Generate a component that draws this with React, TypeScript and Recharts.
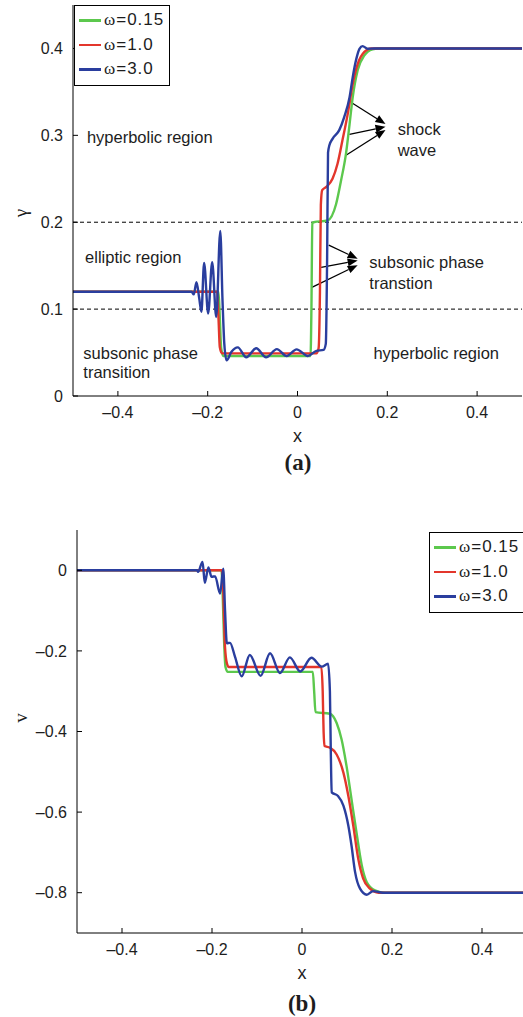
import React from 'react';
import { Label, Legend, Line, LineChart, ReferenceDot, ReferenceLine, XAxis, YAxis } from 'recharts';

type Pt = [number, number];
type Note = { x: number; y: number; text: string };
type Seg = [number, number, number, number];

const SANS = '"Liberation Sans", Arial, Helvetica, sans-serif';
const SERIF = '"Liberation Serif", "Times New Roman", serif';
const INK = '#1d1d1d';

const xTicks = [-0.4, -0.2, 0, 0.2, 0.4];
const gammaTicks = [0, 0.1, 0.2, 0.3, 0.4];
const vTicks = [-0.8, -0.6, -0.4, -0.2, 0];
const names = ['ω=0.15', 'ω=1.0', 'ω=3.0'];
const colors = ['#5cc84d', '#e3362c', '#2a3e9e'];

// (a) gamma
const gammaW015: Pt[] = [
  [-0.5, 0.12], [-0.176, 0.12], [-0.173, 0.09], [-0.17, 0.055], [-0.165, 0.046], [0.029, 0.046],
  [0.031, 0.1], [0.033, 0.199], [0.036, 0.2], [0.067, 0.202], [0.086, 0.221], [0.097, 0.248],
  [0.108, 0.279], [0.116, 0.313], [0.123, 0.344], [0.134, 0.375], [0.149, 0.392], [0.167, 0.399],
  [0.18, 0.4], [0.5, 0.4],
];
const gammaW1: Pt[] = [
  [-0.5, 0.12], [-0.179, 0.12], [-0.176, 0.09], [-0.173, 0.056], [-0.168, 0.049], [0.042, 0.049],
  [0.047, 0.055], [0.05, 0.12], [0.052, 0.22], [0.055, 0.2368], [0.064, 0.2406], [0.078, 0.25],
  [0.089, 0.267], [0.1, 0.294], [0.112, 0.325], [0.123, 0.359], [0.134, 0.382], [0.149, 0.396],
  [0.164, 0.4], [0.5, 0.4],
];
const gammaW3: Pt[] = [
  [-0.5, 0.12], [-0.236, 0.12], [-0.231, 0.117], [-0.225, 0.131], [-0.219, 0.113], [-0.214, 0.097],
  [-0.208, 0.153], [-0.199, 0.095], [-0.19, 0.154], [-0.181, 0.091], [-0.172, 0.19], [-0.167, 0.11],
  [-0.163, 0.06], [-0.158, 0.041], [-0.147, 0.051], [-0.133, 0.056], [-0.114, 0.0445], [-0.092, 0.055],
  [-0.07, 0.0445], [-0.046, 0.054], [-0.024, 0.046], [-0.002, 0.0537], [0.023, 0.046], [0.042, 0.052],
  [0.058, 0.053], [0.063, 0.06], [0.066, 0.16], [0.068, 0.28], [0.071, 0.2885], [0.078, 0.296],
  [0.093, 0.306], [0.104, 0.321], [0.116, 0.344], [0.123, 0.367], [0.131, 0.388], [0.138, 0.3996],
  [0.145, 0.4027], [0.156, 0.3996], [0.17, 0.4], [0.5, 0.4],
];

// (b) v
const vW015: Pt[] = [
  [-0.5, 0], [-0.179, 0], [-0.176, -0.07], [-0.173, -0.18], [-0.17, -0.24], [-0.165, -0.252],
  [0.024, -0.252], [0.027, -0.3], [0.03, -0.352], [0.062, -0.356], [0.077, -0.379], [0.088, -0.42],
  [0.099, -0.486], [0.11, -0.568], [0.121, -0.65], [0.133, -0.733], [0.144, -0.774], [0.162, -0.794],
  [0.185, -0.8], [0.5, -0.8],
];
const vW1: Pt[] = [
  [-0.5, 0], [-0.178, 0], [-0.175, -0.05], [-0.172, -0.17], [-0.168, -0.225], [-0.163, -0.24],
  [0.043, -0.24], [0.046, -0.3], [0.048, -0.4], [0.05, -0.436], [0.062, -0.44], [0.077, -0.457],
  [0.092, -0.502], [0.103, -0.56], [0.114, -0.634], [0.125, -0.716], [0.136, -0.765], [0.151, -0.79],
  [0.17, -0.8], [0.5, -0.8],
];
const vW3: Pt[] = [
  [-0.5, 0], [-0.233, 0], [-0.231, -0.004], [-0.221, 0.021], [-0.216, -0.031], [-0.208, 0.007],
  [-0.201, -0.016], [-0.193, -0.015], [-0.182, -0.058], [-0.175, 0.004], [-0.171, -0.1], [-0.167, -0.181],
  [-0.16, -0.18], [-0.149, -0.214], [-0.134, -0.263], [-0.116, -0.21], [-0.092, -0.262], [-0.071, -0.206],
  [-0.049, -0.255], [-0.027, -0.216], [-0.004, -0.251], [0.021, -0.217], [0.044, -0.239], [0.058, -0.232],
  [0.062, -0.3], [0.064, -0.45], [0.066, -0.551], [0.08, -0.56], [0.092, -0.584], [0.103, -0.634],
  [0.11, -0.683], [0.118, -0.749], [0.129, -0.79], [0.144, -0.805], [0.158, -0.796], [0.18, -0.8], [0.5, -0.8],
];

const phaseBounds = [0.1, 0.2];
const gammaNotes: Note[] = [
  { x: -0.469, y: 0.298, text: 'hyperbolic region' },
  { x: -0.473, y: 0.16, text: 'elliptic region' },
  { x: -0.477, y: 0.05, text: 'subsonic phase' },
  { x: -0.477, y: 0.028, text: 'transition' },
  { x: 0.223, y: 0.307, text: 'shock' },
  { x: 0.223, y: 0.283, text: 'wave' },
  { x: 0.16, y: 0.154, text: 'subsonic phase' },
  { x: 0.16, y: 0.13, text: 'transtion' },
  { x: 0.169, y: 0.05, text: 'hyperbolic region' },
];
const gammaArrows: Seg[] = [
  [0.119, 0.338, 0.196, 0.313],
  [0.1156, 0.301, 0.196, 0.31],
  [0.108, 0.277, 0.196, 0.306],
  [0.0696, 0.1736, 0.134, 0.158],
  [0.0526, 0.148, 0.134, 0.156],
  [0.032, 0.125, 0.134, 0.1506],
];

const fmt = (v: number) => (v < 0 ? `–${Math.abs(v)}` : `${v}`);
const rows = (pts: Pt[]) => pts.map(([x, y]) => ({ x, y }));
const tickStyle = { fill: INK, fontSize: 16, fontFamily: SANS };

function arrowShape(p: any) {
  const { x1, y1, x2, y2 } = p;
  const a = Math.atan2(y2 - y1, x2 - x1);
  const L = 10, W = 4;
  const bx = x2 - L * Math.cos(a), by = y2 - L * Math.sin(a);
  const pts = `${x2},${y2} ${bx + W * Math.sin(a)},${by - W * Math.cos(a)} ${bx - W * Math.sin(a)},${by + W * Math.cos(a)}`;
  return (
    <g>
      <line x1={x1} y1={y1} x2={bx} y2={by} stroke="#000" strokeWidth={1.3} />
      <polygon points={pts} fill="#000" />
    </g>
  );
}

const note = (n: Note, i: number) => (
  <ReferenceDot key={`n${i}`} x={n.x} y={n.y} r={0} ifOverflow="visible"
    shape={(p: any) => (
      <text x={p.cx} y={p.cy} dominantBaseline="central" fill={INK} fontSize={16.5} fontFamily={SANS}>{n.text}</text>
    )} />
);

const arrow = (s: Seg, i: number) => (
  <ReferenceLine key={`a${i}`} segment={[{ x: s[0], y: s[1] }, { x: s[2], y: s[3] }]} ifOverflow="visible" shape={arrowShape} />
);

function LegendBox({ width }: { width: number }) {
  return (
    <div style={{ width, boxSizing: 'border-box', border: '1.5px solid #000', background: '#fff', padding: '2px 0 3px 4px', fontFamily: SANS, fontSize: 17, color: INK }}>
      {names.map((n, i) => (
        <div key={n} style={{ display: 'flex', alignItems: 'center', height: 24.5 }}>
          <span style={{ display: 'inline-block', width: 22, height: 2.5, background: colors[i], marginRight: 3 }} />
          <span style={{ letterSpacing: 1 }}><span style={{ fontFamily: SERIF }}>ω</span>{n.slice(1)}</span>
        </div>
      ))}
    </div>
  );
}

interface PanelProps {
  series: Pt[][];
  yDomain: [number, number];
  yTicks: number[];
  yLabel: string;
  yLabelY: number;
  width: number;
  plotLeft: number;
  right: number;
  axisHeight: number;
  plotHeight: number;
  legendPos: { left: number; top: number; width: number };
  children?: React.ReactNode;
}

function Panel({ series, yDomain, yTicks, yLabel, yLabelY, width, plotLeft, right, axisHeight, plotHeight, legendPos, children }: PanelProps) {
  return (
    <LineChart width={width} height={5 + plotHeight + axisHeight} margin={{ top: 5, right, left: 0, bottom: 0 }}>
      <XAxis type="number" dataKey="x" domain={[-0.5, 0.5]} ticks={xTicks} interval={0} tickFormatter={fmt}
        allowDataOverflow height={axisHeight} tickSize={-5} tickMargin={16} stroke="#000" tick={tickStyle}>
        <Label value="x" position="insideTop" offset={33} fill={INK} fontSize={18} fontFamily={SANS} />
      </XAxis>
      <XAxis xAxisId="top" orientation="top" type="number" domain={[-0.5, 0.5]} ticks={xTicks} interval={0}
        height={0} tickSize={-5} tick={false} stroke="#000" allowDataOverflow />
      <YAxis type="number" domain={yDomain} ticks={yTicks} interval={0} tickFormatter={fmt} allowDataOverflow
        width={plotLeft} tickSize={-5} tickMargin={15} stroke="#000" tick={tickStyle}>
        <Label content={() => (
          <text x={20} y={yLabelY} transform={`rotate(-90, 20, ${yLabelY})`} textAnchor="middle" dominantBaseline="central"
            fill={INK} fontSize={19} fontFamily={SERIF}>{yLabel}</text>
        )} />
      </YAxis>
      <YAxis yAxisId="right" orientation="right" type="number" domain={yDomain} ticks={yTicks} interval={0}
        width={0} tickSize={-5} tick={false} stroke="#000" allowDataOverflow />
      {children}
      {series.map((pts, i) => (
        <Line key={names[i]} name={names[i]} data={rows(pts)} dataKey="y" type="monotone" stroke={colors[i]}
          strokeWidth={2.4} dot={false} activeDot={false} isAnimationActive={false} />
      ))}
      <Legend layout="vertical" align="center" verticalAlign="middle"
        wrapperStyle={{ left: legendPos.left, top: legendPos.top, width: legendPos.width }}
        content={() => <LegendBox width={legendPos.width} />} />
    </LineChart>
  );
}

const captionStyle: React.CSSProperties = {
  position: 'absolute', width: 60, marginLeft: -30, textAlign: 'center',
  fontFamily: SERIF, fontWeight: 'bold', fontSize: 23, color: INK, lineHeight: '24px',
};

export default function App() {
  return (
    <div style={{ position: 'absolute', left: 0, top: 0, width: 523, height: 1017, overflow: 'hidden', background: '#fff' }}>
      <div style={{ position: 'absolute', left: 0, top: 0 }}>
        <Panel series={[gammaW015, gammaW1, gammaW3]} yDomain={[0, 0.45]} yTicks={gammaTicks} yLabel="γ" yLabelY={213}
          width={523} plotLeft={73} right={1} axisHeight={64} plotHeight={391}
          legendPos={{ left: 74, top: 5, width: 96 }}>
          {phaseBounds.map((b) => (
            <ReferenceLine key={b} y={b} stroke="#000" strokeWidth={1} strokeDasharray="4 3" />
          ))}
          {gammaArrows.map(arrow)}
          {gammaNotes.map(note)}
        </Panel>
      </div>
      <div style={{ ...captionStyle, left: 298, top: 451 }}>(a)</div>
      <div style={{ position: 'absolute', left: 0, top: 525 }}>
        <Panel series={[vW015, vW1, vW3]} yDomain={[-0.9, 0.1]} yTicks={vTicks} yLabel="v" yLabelY={193}
          width={530} plotLeft={77} right={3} axisHeight={52} plotHeight={403}
          legendPos={{ left: 429, top: 7, width: 100 }} />
      </div>
      <div style={{ ...captionStyle, left: 302, top: 992 }}>(b)</div>
    </div>
  );
}
